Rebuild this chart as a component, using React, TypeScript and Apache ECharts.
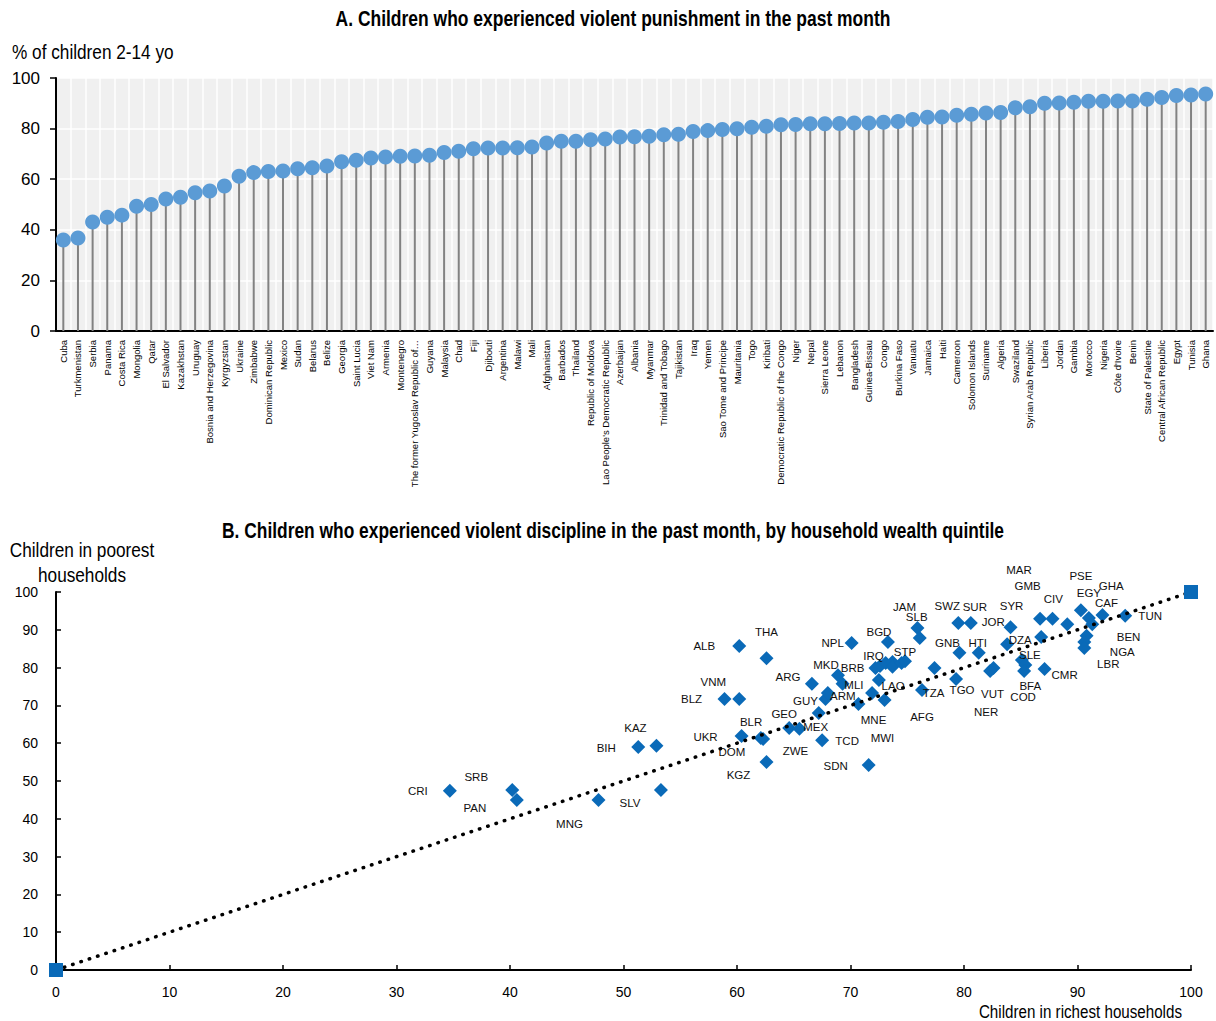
import React, { useEffect, useRef } from 'react';
import * as echarts from 'echarts';

// Panel A: % of children 2-14 who experienced violent punishment in the past month
const countries = [
  'Cuba', 'Turkmenistan', 'Serbia', 'Panama', 'Costa Rica', 'Mongolia', 'Qatar', 'El Salvador',
  'Kazakhstan', 'Uruguay', 'Bosnia and Herzegovina', 'Kyrgyzstan', 'Ukraine', 'Zimbabwe',
  'Dominican Republic', 'Mexico', 'Sudan', 'Belarus', 'Belize', 'Georgia', 'Saint Lucia',
  'Viet Nam', 'Armenia', 'Montenegro', 'The former Yugoslav Republic of…', 'Guyana', 'Malaysia',
  'Chad', 'Fiji', 'Djibouti', 'Argentina', 'Malawi', 'Mali', 'Afghanistan', 'Barbados',
  'Thailand', 'Republic of Moldova', "Lao People's Democratic Republic", 'Azerbaijan', 'Albania',
  'Myanmar', 'Trinidad and Tobago', 'Tajikistan', 'Iraq', 'Yemen', 'Sao Tome and Principe',
  'Mauritania', 'Togo', 'Kiribati', 'Democratic Republic of the Congo', 'Niger', 'Nepal',
  'Sierra Leone', 'Lebanon', 'Bangladesh', 'Guinea-Bissau', 'Congo', 'Burkina Faso', 'Vanuatu',
  'Jamaica', 'Haiti', 'Cameroon', 'Solomon Islands', 'Suriname', 'Algeria', 'Swaziland',
  'Syrian Arab Republic', 'Liberia', 'Jordan', 'Gambia', 'Morocco', 'Nigeria', "Côte d'Ivoire",
  'Benin', 'State of Palestine', 'Central African Republic', 'Egypt', 'Tunisia', 'Ghana',
];
const punishment = [
  36.0, 36.8, 43.1, 45.0, 45.8, 49.3, 50.0, 52.2,
  52.9, 54.6, 55.3, 57.3, 61.2, 62.6,
  63.0, 63.2, 64.1, 64.5, 65.2, 66.9, 67.5,
  68.4, 68.8, 69.1, 69.2, 69.5, 70.6,
  71.0, 72.0, 72.3, 72.3, 72.4, 72.7, 74.3, 75.0,
  75.0, 75.6, 75.9, 76.7, 76.8,
  77.0, 77.6, 77.8, 78.9, 79.2, 79.6,
  79.9, 80.5, 80.9, 81.5, 81.6, 81.9,
  81.9, 82.0, 82.2, 82.2, 82.5, 82.8, 83.6,
  84.5, 84.6, 85.3, 85.7, 86.2, 86.4, 88.2,
  88.6, 90.0, 90.1, 90.4, 90.8, 90.8, 90.9,
  90.9, 91.6, 92.3, 93.1, 93.3, 93.7,
];
const yTicksA = { min: 0, max: 100, interval: 20 };

// Panel B: violent discipline, richest (x) vs poorest (y) households
const codes = [
  'CRI', 'SRB', 'PAN', 'MNG', 'SLV', 'BIH', 'KAZ', 'UKR', 'BLR', 'DOM', 'KGZ', 'BLZ', 'VNM',
  'ALB', 'THA', 'ARG', 'GEO', 'ZWE', 'MEX', 'TCD', 'GUY', 'ARM', 'MKD', 'BRB', 'MWI', 'SDN',
  'LAO', 'MNE', 'MLI', 'IRQ', '', '', '', '', '', 'STP', 'NPL', 'BGD', 'JAM', 'SLB', 'TZA',
  'AFG', 'SWZ', 'SUR', 'GNB', 'HTI', 'TGO', 'VUT', 'NER', 'SYR', 'DZA', 'SLE', 'BFA', 'COD',
  'CMR', 'MAR', 'GMB', 'CIV', 'JOR', 'PSE', 'EGY', 'GHA', 'CAF', 'BEN', 'NGA', 'LBR', 'TUN',
];
const richest = [
  34.7, 40.2, 40.6, 47.8, 53.3, 51.3, 52.9, 60.4, 62.3, 62.1, 62.6, 58.9, 60.2,
  60.2, 62.6, 66.6, 64.6, 65.5, 67.2, 67.5, 67.8, 68.0, 68.9, 69.3, 70.7, 71.6,
  71.9, 73.0, 72.5, 72.2, 72.6, 73.1, 73.7, 73.7, 74.5, 74.8, 70.1, 73.3, 75.9, 76.1, 77.4,
  76.3, 79.5, 80.6, 79.6, 81.3, 79.3, 82.6, 82.3, 84.1, 83.8, 85.1, 85.4, 85.3,
  87.1, 86.7, 87.8, 89.1, 86.8, 90.3, 91.0, 91.3, 92.2, 90.8, 90.6, 90.6, 94.2,
];
const poorest = [
  47.4, 47.6, 45.0, 45.0, 47.6, 59.0, 59.3, 61.9, 61.1, 61.4, 55.0, 71.7, 71.7,
  85.7, 82.5, 75.7, 64.0, 63.8, 68.0, 60.8, 71.7, 73.3, 78.0, 75.7, 70.4, 54.2,
  73.3, 71.4, 76.7, 79.9, 80.4, 81.2, 81.5, 80.2, 81.2, 81.7, 86.5, 86.8, 90.5, 87.8, 79.9,
  74.1, 91.8, 91.8, 83.9, 83.9, 77.0, 79.9, 79.1, 90.7, 86.2, 82.0, 80.7, 79.1,
  79.6, 92.9, 92.9, 91.5, 88.1, 95.2, 93.1, 91.5, 93.9, 88.4, 86.8, 85.2, 93.7,
];
const parityLine = [[0, 0], [100, 100]];
// label placement (pixel offsets from each marker), layout only
const labelOffsets: [number, number][] = [
  [-32, 0], [-36, -13], [-42, 8], [-29, 24], [-31, 13], [-32, 1], [-21, -18], [-36, 1], [-12, -17], [-29, 14], [-28, 13], [-33, 0], [-26, -17],
  [-35, 0], [0, -26], [-24, -7], [-5, -14], [-4, 22], [-3, 14], [25, 1], [-20, 2], [15, 3], [-12, -10], [10, -16], [24, 34], [-33, 1],
  [21, -7], [-11, 20], [-25, 5], [-2, -12], [0, 0], [0, 0], [0, 0], [0, 0], [0, 0], [0, -9], [-19, 0], [-9, -10], [-13, -21], [-3, -21], [-1, 25],
  [0, 27], [-11, -17], [4, -16], [-12, -10], [-1, -10], [6, 11], [-1, 26], [-4, 41], [1, -21], [13, -4], [8, -5], [5, 21], [-1, 26],
  [20, 6], [-21, -49], [-25, -33], [-14, -25], [-48, -15], [0, -34], [0, -25], [19, -38], [4, -12], [42, 1], [38, 10], [24, 16], [25, 0],
];

const FONT = "'Liberation Sans', Arial, sans-serif";
const NARROW = 0.82; // horizontal squeeze to imitate a narrow face on free texts
const DOT = '#5b9bd5';
const DIAMOND = '#0a6ab8';

const freeText = (text: string, x: number, y: number, size: number, align: string, bold = false) => ({
  type: 'text', x, y, scaleX: NARROW,
  style: { text, font: `${bold ? 'bold ' : ''}${size}px ${FONT}`, fill: '#000', align, verticalAlign: 'middle' },
});

export default function App() {
  const ref = useRef<HTMLDivElement>(null);
  useEffect(() => {
    const chart = echarts.init(ref.current!, null, { renderer: 'svg' });
    chart.setOption({
      animation: false,
      backgroundColor: '#ffffff',
      textStyle: { fontFamily: FONT, color: '#000' },
      grid: [
        { left: 56, top: 78, width: 1157, height: 253, show: true, backgroundColor: '#f0f0f0', borderWidth: 0 },
        { left: 56, top: 592, width: 1135, height: 378 },
      ],
      xAxis: [
        {
          type: 'category', gridIndex: 0, data: countries, boundaryGap: true,
          axisLine: { show: true, lineStyle: { color: '#000', width: 2 } },
          axisTick: { show: false },
          axisLabel: { rotate: 90, interval: 0, fontSize: 9.5, fontFamily: FONT, color: '#000', margin: 9 },
          splitLine: { show: true, interval: 0, lineStyle: { color: '#ffffff', width: 1.5 } },
        },
        {
          type: 'value', gridIndex: 1, min: 0, max: 100, interval: 10,
          axisLine: { show: true, onZero: false, lineStyle: { color: '#000', width: 2 } },
          axisTick: { show: true, inside: true, length: 5, lineStyle: { color: '#000', width: 1.5 } },
          axisLabel: { fontSize: 14, fontFamily: FONT, color: '#000', margin: 15 },
          splitLine: { show: false },
        },
      ],
      yAxis: [
        {
          type: 'value', gridIndex: 0, ...yTicksA,
          axisLine: { show: true, lineStyle: { color: '#000', width: 2 } },
          axisTick: { show: true, length: 6, lineStyle: { color: '#000', width: 1.5 } },
          axisLabel: { fontSize: 17, fontFamily: FONT, color: '#000', margin: 16 },
          splitLine: { show: true, lineStyle: { color: '#ffffff', width: 1.5 } },
        },
        {
          type: 'value', gridIndex: 1, min: 0, max: 100, interval: 10,
          axisLine: { show: true, onZero: false, lineStyle: { color: '#000', width: 2 } },
          axisTick: { show: true, inside: true, length: 5, lineStyle: { color: '#000', width: 1.5 } },
          axisLabel: { fontSize: 14, fontFamily: FONT, color: '#000', margin: 18 },
          splitLine: { show: false },
        },
      ],
      graphic: [
        freeText('A. Children who experienced violent punishment in the past month', 613, 18, 21.3, 'center', true),
        freeText('% of children 2-14 yo', 12, 52, 21, 'left'),
        freeText('B. Children who experienced violent discipline in the past month, by household wealth quintile', 613, 530, 21.2, 'center', true),
        freeText('Children in poorest', 82, 550, 21, 'center'),
        freeText('households', 82, 575, 21, 'center'),
        freeText('Children in richest households', 1182, 1012, 18.5, 'right'),
      ],
      series: [
        {
          type: 'bar', xAxisIndex: 0, yAxisIndex: 0, data: punishment, barWidth: 2,
          itemStyle: { color: '#828282' }, silent: true,
        },
        {
          type: 'scatter', xAxisIndex: 0, yAxisIndex: 0, data: punishment,
          symbol: 'circle', symbolSize: 15, itemStyle: { color: DOT, opacity: 1 },
        },
        {
          type: 'scatter', xAxisIndex: 1, yAxisIndex: 1, symbol: 'diamond', symbolSize: 14,
          itemStyle: { color: DIAMOND, opacity: 1 },
          data: codes.map((c, i) => ({
            name: c,
            value: [richest[i], poorest[i]],
            label: { offset: labelOffsets[i] },
          })),
          label: {
            show: true, position: 'inside', formatter: '{b}', color: '#111',
            fontSize: 11.5, fontFamily: FONT,
          },
          z: 3,
        },
        {
          type: 'line', xAxisIndex: 1, yAxisIndex: 1, data: parityLine,
          symbol: 'rect', symbolSize: 14, showSymbol: true,
          itemStyle: { color: DIAMOND, opacity: 1 },
          lineStyle: { color: '#000', width: 3.5, type: [0.5, 8.25], cap: 'round' },
          clip: false, z: 4,
        },
      ],
    });
    return () => chart.dispose();
  }, []);
  return <div ref={ref} style={{ position: 'absolute', left: 0, top: 0, width: 1216, height: 1021 }} />;
}
